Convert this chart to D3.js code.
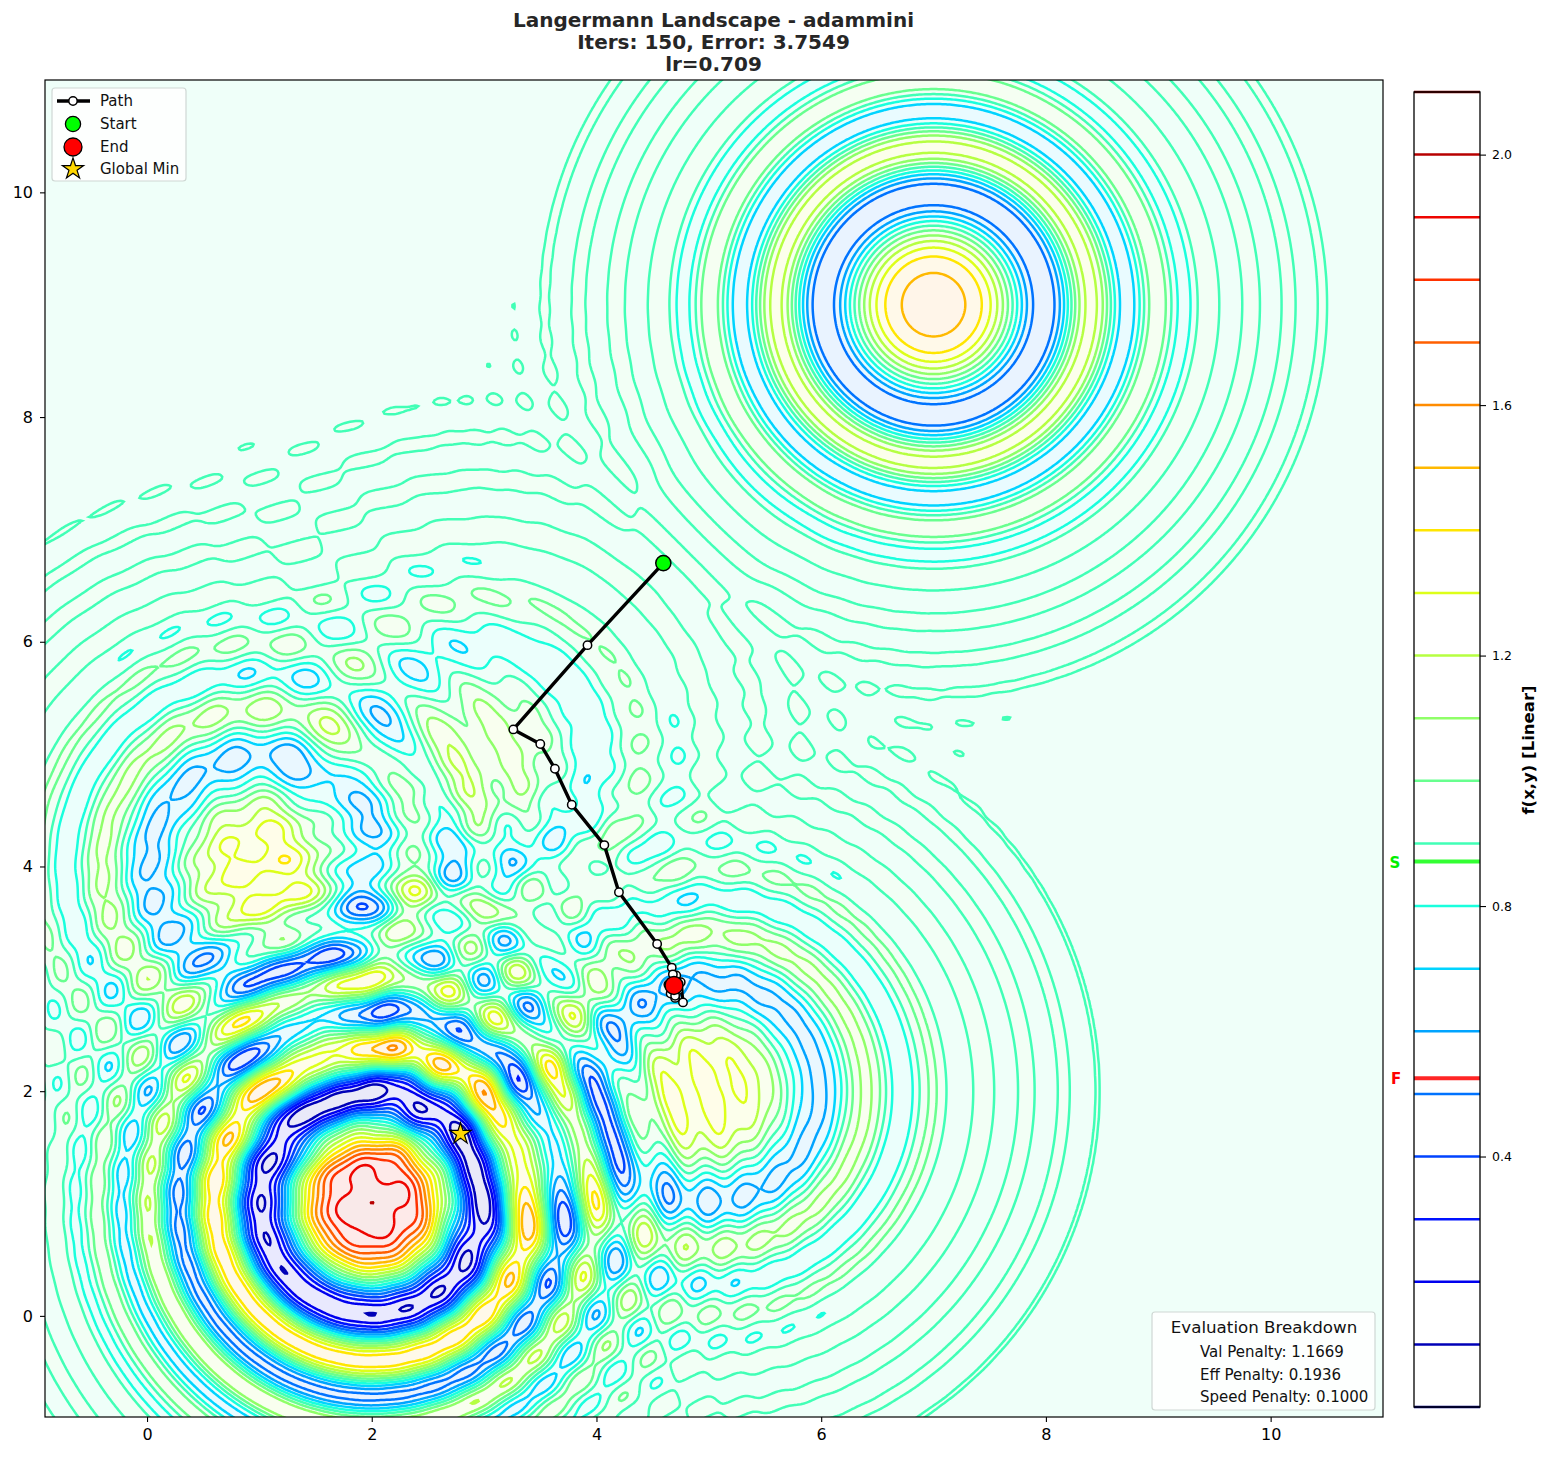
<!DOCTYPE html>
<html>
<head>
<meta charset="utf-8">
<script src="https://cdn.jsdelivr.net/npm/d3@7"></script>
<style>
  body { margin: 0; background: white; }
  text { font-family: "DejaVu Sans", sans-serif; }
</style>
</head>
<body>
<svg id="chart" width="1550" height="1459"></svg>
<script>
//Langermann parameters, the bumps of the landscape
var bumpA = [3, 5, 2, 1, 7]
var bumpB = [5, 2, 1, 4, 9]
var bumpC = [1, 2, 5, 2, 3]

//contour levels as printed on the colorbar
var levels = [0, 0.1, 0.2, 0.3, 0.4, 0.5, 0.6, 0.7, 0.8, 0.9, 1.0, 1.1, 1.2, 1.3, 1.4, 1.5, 1.6, 1.7, 1.8, 1.9, 2.0, 2.1]
var colorbarTicks = [0.4, 0.8, 1.2, 1.6, 2.0]
var xTicks = [0, 2, 4, 6, 8, 10]
var yTicks = [0, 2, 4, 6, 8, 10]

//optimizer path
var pathX = [4.595, 3.92, 3.26, 3.50, 3.63, 3.78, 4.07, 4.20, 4.54, 4.67, 4.71, 4.75, 4.77, 4.70, 4.66, 4.64, 4.68, 4.73, 4.70, 4.69]
var pathY = [6.70, 5.97, 5.22, 5.09, 4.87, 4.55, 4.19, 3.77, 3.31, 3.10, 3.03, 2.97, 2.79, 2.83, 2.87, 2.95, 3.04, 2.90, 2.85, 2.95]
var globalMin = [2.79, 1.62]
var startLevel = 0.871
var endLevel = 0.525

var titleLines = ["Langermann Landscape - adammini", "Iters: 150, Error: 3.7549", "lr=0.709"]
var legendLabels = ["Path", "Start", "End", "Global Min"]
var breakdownLines = ["Val Penalty: 1.1669", "Eff Penalty: 0.1936", "Speed Penalty: 0.1000"]

//the plotted value is a linear rescale of f
var valueOffset = 0.8914
var valueScale = 0.21485

function landscape(x, y) {
    var total = 0
    for (var i = 0; i < bumpC.length; i++) {
        var r2 = (x - bumpA[i]) * (x - bumpA[i]) + (y - bumpB[i]) * (y - bumpB[i])
        total += bumpC[i] * Math.exp(-r2 / Math.PI) * Math.cos(Math.PI * r2)
    }
    return valueOffset + valueScale * total
}

//matplotlib jet
var jetR = d3.scaleLinear().domain([0, 0.35, 0.66, 0.89, 1]).range([0, 0, 1, 1, 0.5]).clamp(true)
var jetG = d3.scaleLinear().domain([0, 0.125, 0.375, 0.64, 0.91, 1]).range([0, 0, 1, 1, 0, 0]).clamp(true)
var jetB = d3.scaleLinear().domain([0, 0.11, 0.34, 0.65, 1]).range([0.5, 1, 1, 0, 0]).clamp(true)
function jet(v) {
    var t = v / 2.1
    return d3.rgb(jetR(t) * 255, jetG(t) * 255, jetB(t) * 255).formatRgb()
}
//contourf had a low alpha, nested polygons need it blended by hand
function paleJet(v) {
    var t = v / 2.1, a = 0.085
    return d3.rgb(255 * (1 - a + a * jetR(t)), 255 * (1 - a + a * jetG(t)), 255 * (1 - a + a * jetB(t))).formatRgb()
}

var svg = d3.select("#chart")
var left = 45, right = 1383, top_ = 80, bottom = 1417

var x = d3.scaleLinear().domain([-0.908, 11]).range([left, right])
var y = d3.scaleLinear().domain([-0.9, 11]).range([bottom, top_])
var cbar = d3.scaleLinear().domain([0, 2.1]).range([1407, 92])

svg.append("defs").append("clipPath").attr("id", "plotClip")
    .append("rect").attr("x", left).attr("y", top_).attr("width", right - left).attr("height", bottom - top_)

//sample on a grid a little bigger than the axes so the borders get clipped away
var gridStep = 0.017
var gridX0 = -1.1, gridY0 = -1.1
var nx = Math.ceil(12.4 / gridStep), ny = Math.ceil(12.4 / gridStep)
var values = new Float64Array(nx * ny)
for (var j = 0; j < ny; j++) {
    for (var i = 0; i < nx; i++) {
        values[j * nx + i] = landscape(gridX0 + i * gridStep, gridY0 + j * gridStep)
    }
}

var contours = d3.contours().size([nx, ny]).thresholds(levels)(values)
var toScreen = d3.geoTransform({
    point: function(px, py) {
        this.stream.point(x(gridX0 + (px - 0.5) * gridStep), y(gridY0 + (py - 0.5) * gridStep))
    }
})
var contourPath = d3.geoPath(toScreen)
var plot = svg.append("g").attr("clip-path", "url(#plotClip)")

plot.append("rect").attr("x", left).attr("y", top_).attr("width", right - left).attr("height", bottom - top_)
    .attr("fill", paleJet(0.1))

plot.selectAll("path.band").data(contours).enter().append("path")
    .attr("class", "band")
    .attr("d", contourPath)
    .attr("fill", function(d) { return paleJet(d.value + 0.1) })

plot.selectAll("path.line").data(contours).enter().append("path")
    .attr("class", "line")
    .attr("d", contourPath)
    .attr("fill", "none")
    .attr("stroke", function(d) { return jet(d.value) })
    .attr("stroke-width", 2.5)

//optimizer path
var pathPoints = pathX.map(function(d, i) { return [d, pathY[i]] })
var line = d3.line().x(function(d) { return x(d[0]) }).y(function(d) { return y(d[1]) })
plot.append("path").attr("d", line(pathPoints))
    .attr("fill", "none").attr("stroke", "black").attr("stroke-width", 3.4).attr("stroke-linejoin", "round")
plot.selectAll("circle.step").data(pathPoints).enter().append("circle")
    .attr("class", "step")
    .attr("cx", function(d) { return x(d[0]) })
    .attr("cy", function(d) { return y(d[1]) })
    .attr("r", 4.2)
    .attr("fill", "white").attr("stroke", "black").attr("stroke-width", 1.5)

var first = pathPoints[0], last = pathPoints[pathPoints.length - 1]
plot.append("circle").attr("cx", x(first[0])).attr("cy", y(first[1])).attr("r", 7.6)
    .attr("fill", "#00ff00").attr("stroke", "black").attr("stroke-width", 1.5)
plot.append("circle").attr("cx", x(last[0])).attr("cy", y(last[1]) + 1).attr("r", 9)
    .attr("fill", "#ff0000").attr("stroke", "black").attr("stroke-width", 1.5)

var star = d3.symbol().type(d3.symbolStar).size(140)
plot.append("path").attr("d", star())
    .attr("transform", "translate(" + x(globalMin[0]) + "," + y(globalMin[1]) + ")")
    .attr("fill", "#ffd700").attr("stroke", "black").attr("stroke-width", 1.2)

//axes
function styleAxis(g) {
    g.selectAll("text").attr("font-size", 16).attr("fill", "black").attr("font-family", "DejaVu Sans")
    g.selectAll("line").attr("stroke", "black").attr("stroke-width", 1.1)
    g.select(".domain").remove()
}
svg.append("g").attr("transform", "translate(0," + bottom + ")")
    .call(d3.axisBottom(x).tickValues(xTicks).tickSize(5).tickPadding(7))
    .call(styleAxis)
svg.append("g").attr("transform", "translate(" + left + ",0)")
    .call(d3.axisLeft(y).tickValues(yTicks).tickSize(5).tickPadding(7))
    .call(styleAxis)
svg.append("rect").attr("x", left).attr("y", top_).attr("width", right - left).attr("height", bottom - top_)
    .attr("fill", "none").attr("stroke", "black").attr("stroke-width", 1.2)

svg.selectAll("text.title").data(titleLines).enter().append("text")
    .attr("class", "title")
    .attr("x", 713.5)
    .attr("y", function(d, i) { return 27 + i * 22.2 })
    .attr("text-anchor", "middle")
    .attr("font-size", 20).attr("font-weight", "bold").attr("fill", "#262626")
    .text(function(d) { return d })

//legend
var legend = svg.append("g")
legend.append("rect").attr("x", 52).attr("y", 88).attr("width", 134).attr("height", 93).attr("rx", 3)
    .attr("fill", "white").attr("fill-opacity", 0.85).attr("stroke", "#cfd8d4").attr("stroke-width", 1.2)
var legendY = [101, 124, 147, 169]
legend.selectAll("text").data(legendLabels).enter().append("text")
    .attr("x", 100)
    .attr("y", function(d, i) { return legendY[i] + 5 })
    .attr("font-size", 15).attr("fill", "#111")
    .text(function(d) { return d })
legend.append("line").attr("x1", 57).attr("x2", 90).attr("y1", legendY[0]).attr("y2", legendY[0])
    .attr("stroke", "black").attr("stroke-width", 3.4)
legend.append("circle").attr("cx", 73).attr("cy", legendY[0]).attr("r", 4.2)
    .attr("fill", "white").attr("stroke", "black").attr("stroke-width", 1.5)
legend.append("circle").attr("cx", 73).attr("cy", legendY[1]).attr("r", 7.6)
    .attr("fill", "#00ff00").attr("stroke", "black").attr("stroke-width", 1.3)
legend.append("circle").attr("cx", 73).attr("cy", legendY[2]).attr("r", 9)
    .attr("fill", "#ff0000").attr("stroke", "black").attr("stroke-width", 1.3)
legend.append("path").attr("d", star())
    .attr("transform", "translate(73," + legendY[3] + ")")
    .attr("fill", "#ffd700").attr("stroke", "black").attr("stroke-width", 1.2)

//evaluation box
var box = svg.append("g")
box.append("rect").attr("x", 1152).attr("y", 1312).attr("width", 223).attr("height", 98).attr("rx", 3)
    .attr("fill", "white").attr("fill-opacity", 0.85).attr("stroke", "#cfd8d4").attr("stroke-width", 1.2)
box.append("text").attr("x", 1264).attr("y", 1333).attr("text-anchor", "middle")
    .attr("font-size", 16.7).attr("fill", "#111").text("Evaluation Breakdown")
box.selectAll("text.row").data(breakdownLines).enter().append("text")
    .attr("class", "row")
    .attr("x", 1200)
    .attr("y", function(d, i) { return 1357 + i * 22.5 })
    .attr("font-size", 15).attr("fill", "#111")
    .text(function(d) { return d })

//colorbar
var barLeft = 1414, barRight = 1480
svg.selectAll("line.level").data(levels).enter().append("line")
    .attr("class", "level")
    .attr("x1", barLeft).attr("x2", barRight)
    .attr("y1", function(d) { return cbar(d) })
    .attr("y2", function(d) { return cbar(d) })
    .attr("stroke", function(d) { return jet(d) })
    .attr("stroke-width", 2.5)

svg.append("line").attr("x1", barLeft).attr("x2", barRight).attr("y1", cbar(startLevel)).attr("y2", cbar(startLevel))
    .attr("stroke", "#00ff00").attr("stroke-opacity", 0.8).attr("stroke-width", 4)
svg.append("line").attr("x1", barLeft).attr("x2", barRight).attr("y1", cbar(endLevel)).attr("y2", cbar(endLevel))
    .attr("stroke", "#ff0000").attr("stroke-opacity", 0.85).attr("stroke-width", 4)
svg.append("text").attr("x", 1395).attr("y", cbar(startLevel) + 6).attr("text-anchor", "middle")
    .attr("font-size", 15).attr("font-weight", "bold").attr("fill", "#00ee00").text("S")
svg.append("text").attr("x", 1396).attr("y", cbar(endLevel) + 6).attr("text-anchor", "middle")
    .attr("font-size", 15).attr("font-weight", "bold").attr("fill", "#ff0000").text("F")

svg.append("rect").attr("x", barLeft).attr("y", cbar(2.1)).attr("width", barRight - barLeft).attr("height", cbar(0) - cbar(2.1))
    .attr("fill", "none").attr("stroke", "black").attr("stroke-width", 1.3)

svg.append("g").attr("transform", "translate(" + barRight + ",0)")
    .call(d3.axisRight(cbar).tickValues(colorbarTicks).tickFormat(d3.format(".1f")).tickSize(6).tickPadding(6))
    .call(function(g) {
        g.selectAll("text").attr("font-size", 12.5).attr("fill", "black").attr("font-family", "DejaVu Sans")
        g.selectAll("line").attr("stroke", "black").attr("stroke-width", 1.1)
        g.select(".domain").remove()
    })

svg.append("text").attr("transform", "translate(1534,750) rotate(-90)")
    .attr("text-anchor", "middle")
    .attr("font-size", 16.5).attr("font-weight", "bold").attr("fill", "black")
    .text("f(x,y) [Linear]")
</script>
</body>
</html>
